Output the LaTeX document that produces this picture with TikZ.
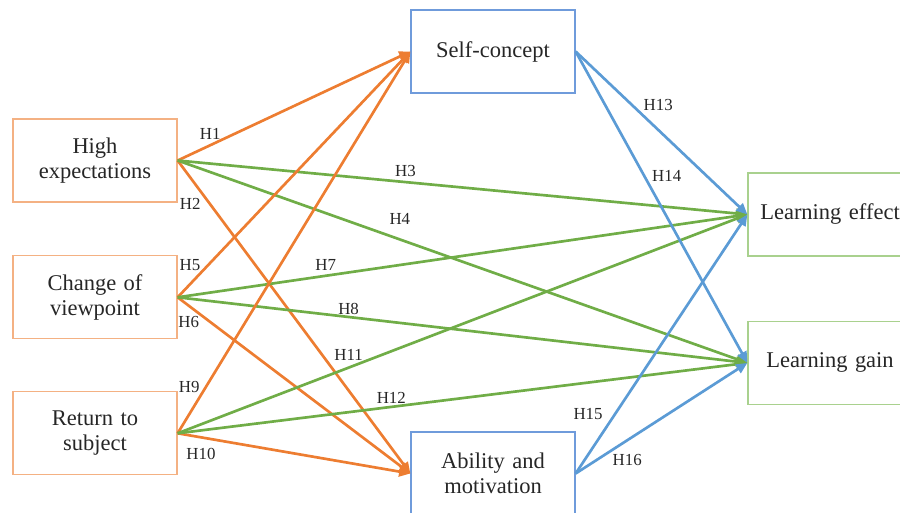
\documentclass[tikz,border=0pt]{standalone}
\usepackage{fontspec}
\setmainfont{Liberation Serif}
\usepackage{xcolor}
\usetikzlibrary{positioning,arrows.meta}

\definecolor{lineorange}{HTML}{ED7D31}
\definecolor{linegreen}{HTML}{70AD47}
\definecolor{lineblue}{HTML}{5B9BD5}
\definecolor{boxorange}{HTML}{F4B183}
\definecolor{boxblue}{HTML}{6F9BDB}
\definecolor{boxgreen}{HTML}{A9D18E}

\begin{document}
\begin{tikzpicture}[node distance=2cm,on grid,>={Triangle[length=8pt,width=7pt]},
   box/.style={rectangle,draw,line width=0.9pt,minimum width=4.1cm,minimum height=2.075cm,
      text width=3.6cm,align=center,font=\fontsize{16}{18}\selectfont,text=black!85},
   srcbox/.style={box,draw=boxorange},
   midbox/.style={box,draw=boxblue},
   outbox/.style={box,draw=boxgreen},
   hyp/.style={font=\fontsize{12}{14}\selectfont,inner sep=1pt,text=black!85},
   orng/.style={draw=lineorange,line width=1.9pt},
   grn/.style={draw=linegreen,line width=1.9pt},
   blu/.style={draw=lineblue,line width=1.9pt}]
   \useasboundingbox (0,0) rectangle (22.5,-12.825);
   \node[srcbox] (he) at (2.375,-4.0125) {High\\expectations};
   \node[srcbox] (cv) [below=3.42cm of he] {Change of\\viewpoint};
   \node[srcbox] (rs) [below=3.4cm of cv] {Return to\\subject};
   \node[midbox] (sc) [above right=2.725cm and 9.95cm of he] {Self-concept};
   \node[midbox] (am) [below=10.55cm of sc] {Ability and\\motivation};
   \node[outbox] (le) [below right=4.075cm and 8.425cm of sc] {Learning effect};
   \node[outbox] (lg) [below=3.71cm of le] {Learning gain};
    \path[->]
    (he.east) edge [orng] node [hyp,pos=0.14,above=2pt] {H1} (sc.west)
              edge [orng] node [hyp,pos=0.14,left=5pt] {H2} (am.west)
              edge [grn] node [hyp,pos=0.4,above=2pt] {H3} (le.west)
              edge [grn] node [hyp,pos=0.39,above=8.5pt] {H4} (lg.west)
    (cv.east) edge [orng] node [hyp,pos=0.13,left=3.5pt] {H5} (sc.west)
              edge [orng] node [hyp,pos=0.14,left=6pt] {H6} (am.west)
              edge [grn] node [hyp,pos=0.26,above=2pt] {H7} (le.west)
              edge [grn] node [hyp,pos=0.3,above] {H8} (lg.west)
    (rs.east) edge [orng] node [hyp,pos=0.12,left=2.3pt] {H9} (sc.west)
              edge [orng] node [hyp,pos=0.1,below=5.6pt] {H10} (am.west)
              edge [grn] node [hyp,pos=0.3,above=2.8pt] {H11} (le.west)
              edge [grn] node [hyp,pos=0.375,above=0.6pt] {H12} (lg.west)
    (sc.east) edge [blu] node [hyp,pos=0.38,above right] {H13} (le.west)
              edge [blu] node [hyp,pos=0.4,right=3.6pt] {H14} (lg.west)
    (am.east) edge [blu] node [hyp,pos=0.23,left=7pt] {H15} (le.west)
              edge [blu] node [hyp,pos=0.3,below=7.7pt] {H16} (lg.west);
\end{tikzpicture}
\end{document}
